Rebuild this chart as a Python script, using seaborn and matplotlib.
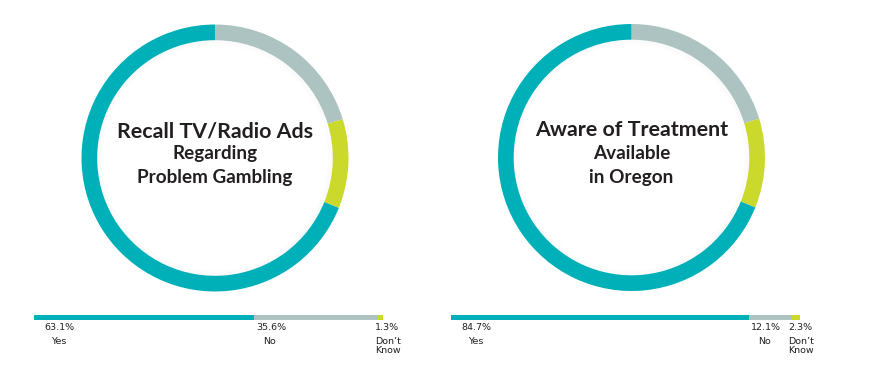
import matplotlib
matplotlib.use('Agg')
import matplotlib.pyplot as plt
import seaborn as sns
import pandas as pd

# ── Dữ liệu ──
categories = ['Yes', 'No', 'Don\u2019t\nKnow']
ads_values = [63.1, 35.6, 1.3]
treat_values = [84.7, 12.1, 2.3]
ads_title = ['Recall TV/Radio Ads', 'Regarding', 'Problem Gambling']
treat_title = ['Aware of Treatment', 'Available', 'in Oregon']
# vòng tròn trang trí (theo chiều kim đồng hồ từ 12h): No, Don't Know, Yes
ring_shares = [20.3, 10.8, 68.9]

TEAL = '#00b0b9'
GREY = '#adc3c2'
LIME = '#cad92b'
colors = [TEAL, GREY, LIME]
TXT = '#231f20'

sns.set_style('white')
plt.rcParams['font.family'] = ['DejaVu Sans']

W, H = 870, 376
fig = plt.figure(figsize=(W / 100, H / 100), dpi=100)


def donut(cx, cy, title):
    size = 280
    ax = fig.add_axes([(cx - size / 2) / W, 1 - (cy + size / 2) / H, size / W, size / H])
    r = 133.5 / (size / 2)
    # bóng mờ bên trong vòng
    for k, a in enumerate([0.05, 0.04, 0.03, 0.02]):
        ax.pie([1], radius=r - 0.1 - k * 0.012, colors=['#9a9a9a'],
               wedgeprops=dict(width=0.012, alpha=a, linewidth=0))
    ax.pie(ring_shares, radius=r, colors=[GREY, LIME, TEAL], startangle=90,
           counterclock=False, wedgeprops=dict(width=0.112, linewidth=0))
    ax.set_xlim(-1, 1)
    ax.set_ylim(-1, 1)
    ax.text(0, 0.15, title[0], ha='center', va='baseline', fontsize=15.4,
            fontweight='bold', family='Lato', color=TXT)
    ax.text(0, -0.01, title[1], ha='center', va='baseline', fontsize=13.6,
            fontweight='bold', family='Lato', color=TXT)
    ax.text(0, -0.18, title[2], ha='center', va='baseline', fontsize=13.6,
            fontweight='bold', family='Lato', color=TXT)


def stacked_bar(x0, values):
    ax = fig.add_axes([x0 / W, 0, 349 / W, 66 / H])
    cum = pd.Series(values).cumsum().tolist()
    starts = [0] + cum[:-1]
    df = pd.DataFrame({'row': ['r'] * 3, 'cum': cum, 'part': categories})
    df = df.iloc[::-1]
    sns.barplot(data=df, x='cum', y='row', hue='part', hue_order=categories[::-1],
                palette=dict(zip(categories, colors)), dodge=False, width=1,
                saturation=1, errorbar=None, legend=False, linewidth=0, ax=ax)
    ax.set_xlim(0, cum[-1])
    ax.set_ylim(11.7, -1.5)
    ax.axis('off')
    offs = [3.0, 0.5, -1.0]
    for s, v, lab, o in zip(starts, values, categories, offs):
        ax.text(s + o, 1.2, f'{v:.1f}%', ha='left', va='top', fontsize=6.8, color=TXT)
        if '\n' in lab:
            ax.text(s + o, 3.9, lab, ha='left', va='top', fontsize=6.8,
                    color=TXT, linespacing=0.95)
        else:
            ax.annotate(lab, (s + o, 3.9), xytext=(10, 0), textcoords='offset points',
                        ha='center', va='top', fontsize=6.8, color=TXT)


donut(215, 158, ads_title)
donut(631.5, 157.5, treat_title)
stacked_bar(34, ads_values)
stacked_bar(451, treat_values)

plt.savefig('out.png', dpi=100)
